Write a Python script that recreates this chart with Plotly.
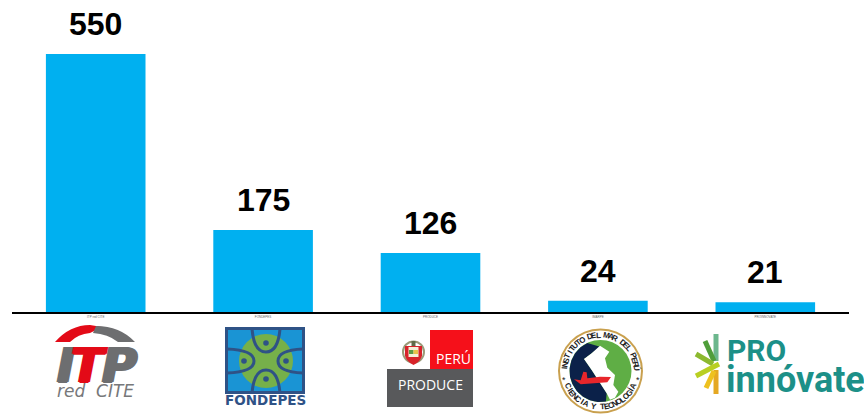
import math
import plotly.graph_objects as go

categories = ["ITP red CITE", "FONDEPES", "PRODUCE", "IMARPE", "PROINNOVATE"]
values = [550, 175, 126, 24, 21]

W, H = 864, 414
ML, MR, MT, MB = 12, 15, 0, 102
PW, PH = W - ML - MR, H - MT - MB


def px(x):
    return (x - ML) / PW


def py(y):
    return 1 - (y - MT) / PH


def P(d):
    """path string from (cmd, x, y...) in picture pixels -> paper coordinates"""
    out = []
    for item in d:
        cmd = item[0]
        nums = item[1:]
        pts = [f"{px(nums[i]):.5f},{py(nums[i+1]):.5f}" for i in range(0, len(nums), 2)]
        out.append(cmd + " ".join(pts))
    return " ".join(out)


shapes = []
annotations = []


def path(d, fill=None, line=None, lw=0, closed=True):
    seq = list(d) + ([("Z",)] if closed else [])
    shapes.append(dict(type="path", xref="paper", yref="paper", path=P(seq),
                       fillcolor=fill if fill else "rgba(0,0,0,0)",
                       line=dict(color=line if line else "rgba(0,0,0,0)", width=lw), layer="above"))


def rect(x0, y0, x1, y1, fill):
    shapes.append(dict(type="rect", xref="paper", yref="paper", x0=px(x0), x1=px(x1), y0=py(y0), y1=py(y1),
                       fillcolor=fill, line=dict(width=0), layer="above"))


def circle(cx, cy, r, fill):
    shapes.append(dict(type="circle", xref="paper", yref="paper", x0=px(cx - r), x1=px(cx + r),
                       y0=py(cy - r), y1=py(cy + r), fillcolor=fill, line=dict(width=0), layer="above"))


def seg(x0, y0, x1, y1, color, w):
    shapes.append(dict(type="line", xref="paper", yref="paper", x0=px(x0), x1=px(x1), y0=py(y0), y1=py(y1),
                       line=dict(color=color, width=w), layer="above"))


def text(x, y, s, size, color, family="Liberation Sans", angle=0, xanchor="center", shadow=None):
    font = dict(size=size, color=color, family=family)
    if shadow:
        font["shadow"] = shadow
    annotations.append(dict(xref="paper", yref="paper", x=px(x), y=py(y), text=s, showarrow=False,
                            xanchor=xanchor, yanchor="middle", textangle=angle, borderpad=0, font=font))


# --- value labels, anchored to the data
for c, v in zip(categories, values):
    annotations.append(dict(x=c, y=v, xref="x", yref="y", text=f"<b>{v}</b>", showarrow=False,
                            yanchor="bottom", yshift=10,
                            font=dict(size=32, color="#000000", family="Liberation Sans")))

# --- ITP red CITE logo
path([("M", 55, 342), ("Q", 70, 325, 90, 325), ("L", 102, 327), ("L", 90, 333), ("Q", 78, 334, 70, 342)], fill="#e30a17")
path([("M", 96, 326), ("Q", 120, 326, 135, 342), ("L", 118, 342), ("Q", 108, 334, 93, 333)], fill="#6d6e70")
gray_bold = "1.5px 0 #6d6e70,-1.5px 0 #6d6e70,0 1px #6d6e70"
red_bold = "1.5px 0 #e30a17,-1.5px 0 #e30a17,0 1px #e30a17"
text(66, 365, "<b><i>I</i></b>", 48, "#6d6e70", family="DejaVu Sans", shadow=gray_bold)
text(89, 365, "<b><i>T</i></b>", 48, "#e30a17", family="DejaVu Sans", shadow=red_bold)
text(119, 365, "<b><i>P</i></b>", 48, "#6d6e70", family="DejaVu Sans", shadow=gray_bold)
text(95, 391, "<i>red  CITE</i>", 17, "#77787a", family="DejaVu Sans")

# --- FONDEPES logo
rect(225, 327, 305, 394, "#2f5286")
rect(228, 330, 302, 391, "#1a94d4")
circle(266, 361, 27, "#76b04a")
dk = "#2f5286"
path([("M", 252, 329), ("Q", 254, 352, 266, 352), ("Q", 278, 352, 280, 329)], line=dk, lw=3, closed=False)
path([("M", 252, 393), ("Q", 254, 370, 266, 370), ("Q", 278, 370, 280, 393)], line=dk, lw=3, closed=False)
path([("M", 227, 349), ("Q", 254, 350, 254, 361), ("Q", 254, 372, 227, 373)], line=dk, lw=3, closed=False)
path([("M", 303, 349), ("Q", 278, 350, 278, 361), ("Q", 278, 372, 303, 373)], line=dk, lw=3, closed=False)
for cx, cy in [(266, 343), (244, 361), (286, 361), (266, 379)]:
    circle(cx, cy, 2.8, dk)
text(265, 400, "<b>FONDEPES</b>", 13.5, "#2f5286", family="DejaVu Sans")

# --- PRODUCE logo
rect(430, 330, 473, 369, "#f5101a")
rect(387, 369, 473, 407, "#58595b")
text(453, 358, "PERÚ", 14, "#ffffff", family="Open Sans")
text(430, 384, "PRODUCE", 14, "#ffffff", family="Open Sans")
circle(413.5, 352, 11.5, "#9a9a78")
circle(413.5, 352, 9.5, "#ffffff")
path([("M", 405, 346), ("L", 422, 346), ("L", 422, 356), ("Q", 420, 362, 413.5, 365), ("Q", 407, 362, 405, 356)], fill="#d8232a")
rect(408.5, 347, 418.5, 357, "#f4f0d8")
rect(409, 350, 413.5, 354, "#5b9a46")
rect(413.5, 350, 418, 354, "#e8c24a")
rect(411.5, 341, 415.5, 346, "#5f6b48")

# --- IMARPE logo
IX, IY = 600.5, 371
def Z(zx, zy):
    return (550 + zx / 3, 325 + zy / 3)

circle(IX, IY, 42.5, "#c9a04e")
circle(IX, IY, 40.5, "#ffffff")
circle(IX, IY, 31, "#5fae45")
arc = [(IX + 31 * math.sin(math.radians(a)), IY - 31 * math.cos(math.radians(a))) for a in range(-25, -191, -15)]
coast = [Z(170, 205), Z(125, 135), Z(102, 102), Z(125, 85), Z(150, 65)]
navy = arc + coast
path([("M",) + navy[0]] + [("L",) + p for p in navy[1:]], fill="#0b2149")
land = [Z(150, 62), Z(178, 80), Z(165, 100), Z(172, 128), Z(195, 150), Z(190, 180), Z(205, 200), Z(195, 218),
        Z(180, 224), Z(170, 205), Z(125, 135), Z(102, 102), Z(125, 85)]
path([("M",) + land[0]] + [("L",) + p for p in land[1:]], fill="#ffffff")
ship = [Z(72, 163), Z(92, 166), Z(100, 140), Z(110, 142), Z(112, 160), Z(150, 155), Z(183, 156), Z(172, 172), Z(92, 178)]
path([("M",) + ship[0]] + [("L",) + p for p in ship[1:]], fill="#e8262b")
top_text = "INSTITUTO DEL MAR DEL PERÚ"
for i, ch in enumerate(top_text):
    a = -86 + 172 * i / (len(top_text) - 1)
    r = math.radians(a)
    text(IX + 36 * math.sin(r), IY - 36 * math.cos(r), f"<b>{ch}</b>", 8, "#222222", angle=a)
bottom_text = "CIENCIA Y TECNOLOGÍA"
for i, ch in enumerate(bottom_text):
    a = -66 + 132 * i / (len(bottom_text) - 1)
    r = math.radians(a)
    text(IX + 36 * math.sin(r), IY + 36 * math.cos(r), f"<b>{ch}</b>", 8, "#222222", angle=-a)
text(IX - 37, IY + 9, "*", 9, "#222222")
text(IX + 37, IY + 9, "*", 9, "#222222")

# --- PRO innóvate logo
seg(716, 334, 716, 361, "#6cb78d", 5)
seg(705, 341, 714, 361, "#4f9e3a", 5)
seg(696, 354, 713, 364, "#8cb92f", 5)
seg(696, 376, 719, 364, "#b9cf22", 5)
seg(716, 370, 716, 394, "#e5a823", 5)
seg(706, 388, 714, 371, "#eec11f", 5)
text(726, 350, "<b>PRO</b>", 30, "#1c9088", family="Roboto", xanchor="left")
text(725, 380, "<b>innóvate</b>", 36, "#1c9088", family="Roboto", xanchor="left")

fig = go.Figure(go.Bar(x=categories, y=values, marker=dict(color="#00b0f0", line=dict(width=0)), width=0.595))
fig.update_layout(
    width=W, height=H, margin=dict(l=ML, r=MR, t=MT, b=MB, autoexpand=False),
    paper_bgcolor="#ffffff", plot_bgcolor="#ffffff", showlegend=False,
    shapes=shapes, annotations=annotations,
    xaxis=dict(showgrid=False, showline=True, linecolor="#000000", linewidth=2, ticks="",
               tickfont=dict(size=3, color="#666666", family="Liberation Sans"), fixedrange=True),
    yaxis=dict(visible=False, range=[0, 665], showgrid=False, zeroline=False, fixedrange=True),
)
fig.write_html("out.html", config=dict(displayModeBar=False),
               post_script="document.body.style.margin='0';document.body.style.overflow='hidden';")
